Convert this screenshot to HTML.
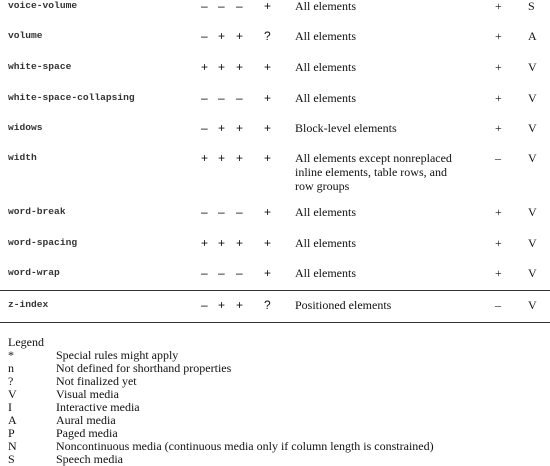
<!DOCTYPE html>
<html><head><style>
body{margin:0;width:550px;height:464px;background:#fff;position:relative;overflow:hidden;color:#111}
.r{position:absolute;left:0;width:550px;height:14px}
.r span{position:absolute;top:0;line-height:14px;white-space:nowrap}
.m{font-family:"Liberation Mono",monospace;font-size:9.6px;font-weight:bold;color:#333}
.g{font-family:"Liberation Sans",sans-serif;font-size:12px}
.s{font-family:"Liberation Serif",serif;font-size:12px}
.hl{position:absolute;left:0;width:550px;height:1px;background:#333}
.lg{position:absolute;font-family:"Liberation Serif",serif;font-size:12px;line-height:13px;white-space:nowrap}
</style></head><body>
<div id="t"></div>
<div class="hl" style="top:290px"></div>
<div class="hl" style="top:322px"></div>
<div class="lg" style="left:8px;top:336px">Legend</div>
<div class="lg" style="left:8px;top:349px">*<br>n<br>?<br>V<br>I<br>A<br>P<br>N<br>S</div>
<div class="lg" style="left:56px;top:349px">Special rules might apply<br>Not defined for shorthand properties<br>Not finalized yet<br>Visual media<br>Interactive media<br>Aural media<br>Paged media<br>Noncontinuous media (continuous media only if column length is constrained)<br>Speech media</div>
<script>
var rows=[[6,"voice-volume","–","–","–","+","All elements","+","S"],
[36,"volume","–","+","+","?","All elements","+","A"],
[67,"white-space","+","+","+","+","All elements","+","V"],
[98,"white-space-collapsing","–","–","–","+","All elements","+","V"],
[128,"widows","–","+","+","+","Block-level elements","+","V"],
[158,"width","+","+","+","+","All elements except nonreplaced<br>inline elements, table rows, and<br>row groups","–","V"],
[212,"word-break","–","–","–","+","All elements","+","V"],
[243,"word-spacing","+","+","+","+","All elements","+","V"],
[273,"word-wrap","–","–","–","+","All elements","+","V"],
[305,"z-index","–","+","+","?","Positioned elements","–","V"]];
var h="";
rows.forEach(function(r){
h+='<div class="r" style="top:'+(r[0]-7)+'px">'+
'<span class="m" style="left:8px">'+r[1]+'</span>'+
'<span class="g" style="left:201px">'+r[2]+'</span>'+
'<span class="g" style="left:218px">'+r[3]+'</span>'+
'<span class="g" style="left:236px">'+r[4]+'</span>'+
'<span class="g" style="left:264px">'+r[5]+'</span>'+
'<span class="s" style="left:295px">'+r[6]+'</span>'+
'<span class="s" style="left:495px">'+r[7]+'</span>'+
'<span class="s" style="left:528px">'+r[8]+'</span></div>';});
document.getElementById("t").innerHTML=h;
</script>
</body></html>
